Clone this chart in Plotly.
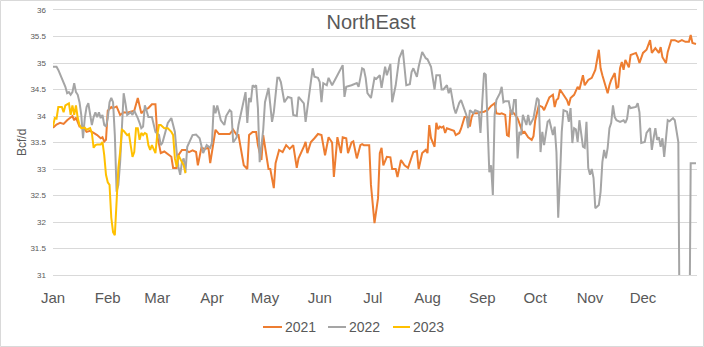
import plotly.graph_objects as go

# ---------------- data (day of year, Bcf/d) ----------------
days_2021 = [1, 3, 5, 7, 9, 11, 12, 13, 14, 16, 18, 20, 22, 24, 26, 28, 29, 30, 31, 32, 34, 35, 37, 39, 41, 43, 45, 47, 49, 51,
             53, 55, 57, 59, 60, 62, 64, 66, 68, 69, 71, 72, 74, 76, 78, 80, 82, 83, 85, 87, 89, 90, 93, 95, 98, 101, 103, 105,
             106, 109, 111, 112, 114, 116, 117, 119, 120, 123, 124, 126, 127, 129, 131, 133, 135, 137, 139, 140, 143, 144, 145,
             147, 149, 151, 153, 155, 157, 159, 160, 161, 162, 164, 165, 167, 168, 170, 171, 173, 175, 176, 177, 180, 181, 183,
             185, 186, 187, 188, 190, 192, 193, 195, 196, 198, 200, 202, 204, 205, 207, 208, 210, 212, 213, 214, 215, 216, 217,
             218, 219, 220, 221, 222, 223, 224, 226, 228, 229, 231, 232, 233, 234, 235, 236, 237, 238, 239, 241, 243, 245, 247,
             249, 251, 252, 254, 255, 257, 258, 259, 260, 262, 264, 267, 268, 270, 272, 273, 274, 276, 278, 279, 281, 282, 284,
             285, 286, 287, 288, 290, 292, 293, 294, 296, 298, 299, 301, 302, 304, 306, 308, 310, 311, 312, 315, 316, 317, 319,
             320, 321, 322, 323, 324, 325, 326, 327, 328, 331, 332, 333, 335, 337, 339, 340, 342, 344, 345, 346, 348, 349, 351,
             353, 355, 357, 359, 361, 362, 363, 365]
bcf_2021 = [33.78, 33.84, 33.87, 33.85, 33.92, 33.98, 34.00, 33.92, 33.97, 33.80, 33.80, 33.70, 33.72, 33.68, 33.64, 33.58,
            33.60, 33.52, 33.55, 34.10, 34.17, 34.15, 34.18, 34.02, 34.07, 34.06, 34.08, 34.10, 34.34, 34.05, 34.12, 34.15,
            34.22, 34.22, 33.64, 33.30, 33.33, 33.28, 33.23, 33.02, 33.02, 33.26, 33.36, 33.36, 33.32, 33.35, 33.32, 33.07,
            33.40, 33.38, 33.40, 33.11, 33.74, 33.66, 33.66, 33.66, 33.74, 33.64, 33.64, 33.07, 33.00, 33.64, 33.70, 33.70,
            33.45, 33.17, 33.64, 33.00, 33.00, 32.64, 33.11, 33.36, 33.32, 33.45, 33.38, 33.45, 33.02, 33.20, 33.42, 33.51,
            33.30, 33.51, 33.58, 33.66, 33.64, 33.26, 33.60, 33.50, 32.85, 33.32, 33.60, 33.30, 33.60, 33.58, 33.30, 33.50,
            33.52, 33.20, 33.45, 33.47, 33.45, 33.45, 32.70, 31.98, 32.45, 33.30, 33.40, 33.07, 33.23, 33.22, 33.00, 33.00,
            32.85, 33.17, 33.07, 33.02, 33.20, 33.32, 33.34, 33.00, 33.30, 33.36, 33.30, 33.83, 33.58, 33.50, 33.42, 33.87,
            33.75, 33.80, 33.78, 33.80, 33.68, 33.77, 33.74, 33.72, 33.64, 33.68, 33.76, 33.87, 33.98, 33.98, 33.97, 33.80,
            33.98, 34.05, 34.05, 34.07, 34.08, 34.11, 34.19, 34.24, 34.05, 34.04, 34.05, 34.02, 33.64, 33.62, 34.11, 34.05,
            33.96, 33.68, 33.70, 33.60, 33.55, 33.62, 33.92, 34.20, 34.17, 34.11, 34.26, 34.35, 34.40, 34.17, 34.30, 34.33,
            34.50, 34.40, 34.30, 34.20, 34.34, 34.40, 34.55, 34.50, 34.77, 34.58, 34.68, 34.72, 34.87, 35.25, 34.90, 34.77,
            34.43, 34.58, 34.68, 34.81, 34.53, 34.55, 34.90, 35.02, 34.87, 35.06, 35.00, 34.92, 35.15, 35.19, 35.11, 35.00,
            35.19, 35.25, 35.43, 35.19, 35.28, 35.19, 35.30, 35.11, 35.00, 35.21, 35.43, 35.43, 35.40, 35.43, 35.40, 35.40,
            35.53, 35.38, 35.36]

days_2022 = [1, 3, 4, 6, 7, 8, 9, 10, 11, 12, 13, 14, 15, 16, 17, 18, 19, 20, 21, 22, 23, 24, 25, 26, 27, 28, 29, 30, 31, 32,
             33, 34, 35, 36, 37, 38, 39, 40, 41, 42, 43, 45, 46, 47, 48, 49, 50, 51, 52, 53, 54, 55, 57, 59, 61, 62, 63, 64, 66,
             68, 70, 71, 72, 73, 74, 75, 76, 77, 79, 80, 82, 84, 86, 88, 90, 91, 92, 93, 94, 96, 98, 99, 101, 102, 103, 105,
             106, 109, 110, 111, 112, 113, 114, 115, 116, 117, 118, 120, 121, 123, 124, 125, 126, 127, 128, 129, 130, 132, 134,
             136, 137, 139, 140, 143, 144, 146, 148, 149, 151, 152, 153, 154, 156, 157, 159, 162, 165, 166, 167, 170, 173, 174,
             176, 177, 178, 179, 181, 183, 184, 186, 187, 189, 190, 192, 193, 195, 197, 199, 200, 201, 203, 204, 205, 207, 208,
             210, 212, 213, 215, 217, 218, 220, 221, 222, 224, 225, 226, 228, 229, 231, 232, 234, 235, 236, 237, 239, 240, 242,
             243, 244, 245, 246, 247, 248, 249, 250, 251, 252, 254, 255, 256, 257, 259, 260, 261, 262, 263, 264, 265, 266, 267,
             269, 270, 271, 273, 275, 276, 277, 278, 279, 281, 282, 284, 285, 286, 287, 288, 289, 290, 292, 293, 294, 295, 296,
             297, 298, 299, 301, 302, 303, 304, 305, 306, 307, 308, 310, 311, 312, 313, 314, 315, 316, 317, 318, 319, 320, 322,
             324, 325, 326, 327, 328, 331, 332, 333, 334, 336, 337, 339, 340, 341, 342, 343, 344, 345, 346, 347, 348, 349, 350,
             352, 353, 355, 356, 358, 361, 362, 365]
bcf_2022 = [34.93, 34.93, 34.87, 34.72, 34.64, 34.55, 34.43, 34.45, 34.40, 34.45, 34.62, 34.45, 34.40, 34.26, 34.02, 33.58,
            33.96, 34.17, 34.24, 34.07, 33.83, 33.98, 34.07, 33.98, 34.07, 33.96, 34.02, 33.83, 33.80, 33.96, 34.26, 34.34,
            34.26, 33.64, 32.57, 32.70, 33.13, 33.77, 34.43, 34.24, 34.02, 34.07, 34.02, 34.10, 34.04, 33.96, 33.87, 33.77,
            33.80, 34.20, 34.10, 33.98, 33.98, 33.70, 33.64, 33.45, 33.50, 33.64, 33.87, 33.96, 33.70, 33.32, 33.04, 32.89,
            33.13, 33.20, 32.94, 33.42, 33.58, 33.64, 33.65, 33.58, 33.30, 33.45, 33.40, 33.50, 34.20, 34.05, 34.20, 33.92,
            33.83, 34.00, 34.11, 34.08, 33.50, 33.60, 33.83, 34.34, 34.45, 33.87, 34.34, 34.26, 34.58, 34.55, 34.58, 34.15,
            33.13, 33.74, 34.26, 34.53, 34.17, 33.89, 34.07, 34.36, 34.72, 34.72, 34.64, 34.26, 34.36, 34.34, 34.02, 34.00,
            34.36, 34.24, 33.89, 34.40, 34.90, 34.74, 34.72, 34.64, 34.26, 34.62, 34.58, 34.72, 34.58, 34.77, 34.96, 34.36,
            34.55, 34.58, 34.62, 34.55, 34.90, 34.88, 34.72, 34.43, 34.34, 34.72, 34.70, 34.77, 34.53, 34.93, 34.77, 34.98,
            34.26, 34.58, 35.09, 35.25, 34.83, 34.58, 34.60, 34.83, 34.90, 34.74, 34.93, 35.21, 35.09, 35.07, 34.93, 34.50,
            34.77, 34.77, 34.50, 34.50, 34.58, 34.43, 34.53, 34.15, 34.05, 34.25, 34.30, 34.11, 34.02, 33.77, 34.11, 34.05,
            34.11, 34.08, 33.68, 34.26, 34.81, 34.78, 33.96, 32.94, 33.07, 32.51, 34.02, 34.30, 34.43, 34.55, 34.26, 34.28,
            34.28, 34.11, 34.02, 34.30, 34.30, 33.20, 33.70, 33.64, 34.02, 33.83, 34.02, 33.83, 33.96, 34.34, 34.30, 33.32,
            33.70, 33.45, 33.89, 33.92, 33.64, 33.80, 33.32, 32.08, 32.83, 33.70, 34.11, 34.08, 33.89, 34.15, 33.49, 33.77,
            33.75, 33.51, 33.92, 33.42, 33.40, 33.89, 33.02, 32.89, 33.00, 32.83, 32.26, 32.32, 32.57, 33.13, 33.36, 33.20,
            33.40, 33.77, 33.87, 34.20, 33.98, 33.92, 33.89, 33.92, 33.87, 33.95, 34.20, 34.15, 34.17, 34.24, 34.07, 33.49,
            33.51, 33.68, 33.77, 33.36, 33.58, 33.77, 33.55, 33.60, 33.42, 33.58, 33.23, 33.60, 33.92, 33.90, 33.96, 33.92,
            33.51, 28.50, 28.50, 28.50, 33.11, 33.11]

days_2023 = [1, 2, 3, 4, 6, 7, 8, 10, 11, 12, 13, 14, 15, 16, 17, 19, 20, 21, 22, 23, 24, 25, 26, 28, 29, 30, 31, 32, 33, 34,
             35, 36, 37, 38, 39, 40, 41, 43, 44, 46, 47, 48, 49, 50, 51, 52, 53, 54, 55, 56, 57, 59, 60, 61, 62, 64, 66, 68, 69,
             70, 71, 72, 74, 75, 76]
bcf_2023 = [33.80, 33.96, 33.95, 34.17, 34.17, 34.07, 34.20, 34.24, 34.02, 34.20, 34.02, 34.20, 33.96, 33.83, 33.77, 33.78,
            33.74, 33.76, 33.77, 33.68, 33.40, 33.45, 33.46, 33.46, 33.51, 33.26, 32.89, 32.75, 32.70, 32.08, 31.81, 31.75,
            32.38, 33.02, 33.32, 33.74, 33.72, 33.64, 33.66, 33.23, 33.32, 33.77, 33.77, 33.55, 33.68, 33.64, 33.68, 33.66,
            33.45, 33.36, 33.45, 33.30, 33.64, 33.83, 33.83, 33.77, 33.77, 33.70, 33.64, 33.20, 33.04, 33.26, 33.13, 33.07,
            32.92]

series_names = ["2021", "2022", "2023"]
series_colors = ["#ED7D31", "#A5A5A5", "#FFC000"]

month_days = [1, 32, 60, 91, 121, 152, 182, 213, 244, 274, 305, 335]
month_labels = ["Jan", "Feb", "Mar", "Apr", "May", "Jun", "Jul", "Aug", "Sep", "Oct", "Nov", "Dec"]
y_ticks = [31, 31.5, 32, 32.5, 33, 33.5, 34, 34.5, 35, 35.5, 36]
y_labels = ["31", "31.5", "32", "32.5", "33", "33.5", "34", "34.5", "35", "35.5", "36"]

# ---------------- layout geometry ----------------
W, H = 704, 347
L, R, T, B = 53, 7, 10, 72
PW, PH = W - L - R, H - T - B
TXT = "#595959"
GRID = "#D9D9D9"
FONT = "Liberation Sans, Arial, sans-serif"


def px_x(p):
    return (p - L) / PW


def px_y(p):
    return (H - B - p) / PH


fig = go.Figure()
for name, d, v, c in zip(series_names, [days_2021, days_2022, days_2023],
                         [bcf_2021, bcf_2022, bcf_2023], series_colors):
    fig.add_trace(go.Scatter(x=d, y=v, mode="lines", name=name,
                             line=dict(color=c, width=2), showlegend=False))

fig.update_layout(
    width=W, height=H,
    margin=dict(l=L, r=R, t=T, b=B),
    paper_bgcolor="white", plot_bgcolor="white",
    font=dict(family=FONT, color=TXT),
    title=dict(text="NorthEast", x=371 / W, xref="container", xanchor="center",
               y=1 - 22 / H, yref="container", yanchor="middle",
               font=dict(size=20, color=TXT, family=FONT)),
    xaxis=dict(range=[1, 365.57], tickvals=month_days, ticktext=month_labels,
               showgrid=False, zeroline=False, showline=True, mirror=True,
               linecolor=GRID, linewidth=1, ticks="",
               tickfont=dict(size=15, color=TXT), ticklabelstandoff=9),
    yaxis=dict(range=[31, 36], tickvals=y_ticks, ticktext=y_labels,
               showgrid=True, gridcolor=GRID, gridwidth=1, zeroline=False,
               showline=False, ticks="", tickfont=dict(size=8, color=TXT),
               ticklabelstandoff=6),
)

# y-axis title
fig.add_annotation(text="Bcf/d", textangle=-90, xref="paper", yref="paper",
                   x=px_x(22), y=px_y(143), showarrow=False,
                   font=dict(size=12, color=TXT, family=FONT),
                   xanchor="center", yanchor="middle")

# legend (drawn manually to mimic short legend keys)
leg_y = px_y(327)
leg_keys = [(263, 282), (328, 346), (393, 410)]
for (x0, x1), name, c in zip(leg_keys, series_names, series_colors):
    fig.add_shape(type="line", xref="paper", yref="paper",
                  x0=px_x(x0), x1=px_x(x1), y0=leg_y, y1=leg_y,
                  line=dict(color=c, width=2))
    fig.add_annotation(text=name, xref="paper", yref="paper",
                       x=px_x(x1 + 1), y=leg_y, xanchor="left", yanchor="middle",
                       showarrow=False, font=dict(size=14, color=TXT, family=FONT))

# chart border
fig.add_shape(type="rect", xref="paper", yref="paper",
              x0=px_x(0.5), x1=px_x(W - 0.5), y0=px_y(H - 0.5), y1=px_y(0.5),
              line=dict(color=GRID, width=1), layer="below")

fig.write_html("out.html")
